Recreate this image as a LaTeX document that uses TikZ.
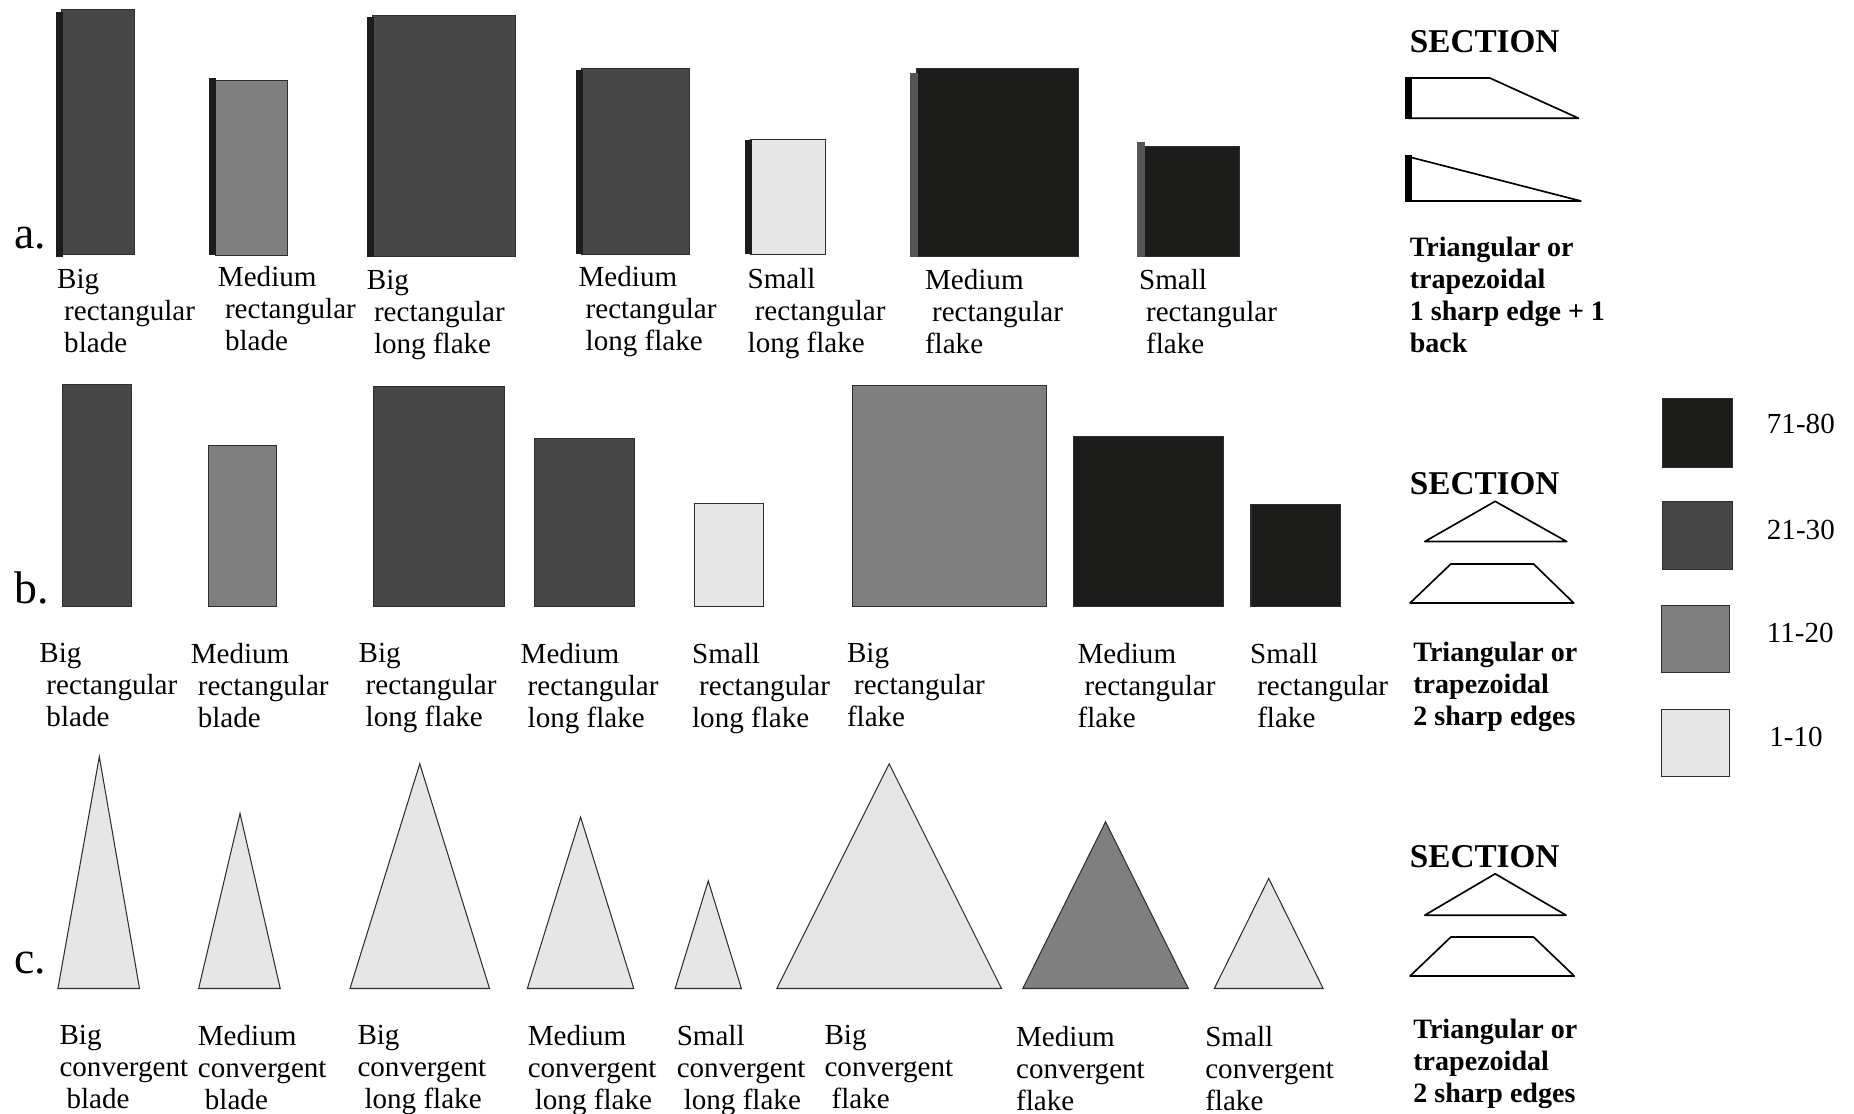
\documentclass[tikz,border=0pt]{standalone}
\usepackage{fontspec}
\setmainfont{Liberation Serif}
\usetikzlibrary{positioning}
\definecolor{colNoir}{HTML}{1C1C1A}
\definecolor{colFonce}{HTML}{474747}
\definecolor{colMoyen}{HTML}{7F7F7F}
\definecolor{colClair}{HTML}{E6E6E6}
\definecolor{colBord}{HTML}{2E2E2E}
\definecolor{colTalon}{HTML}{555555}
\newcommand{\ind}{\hspace*{3.4pt}}

\begin{document}
\begin{tikzpicture}[
  x=0.02cm, y=-0.02cm,
  piece/.style={draw=colBord, line width=0.5pt, fill=#1},
  talon/.style={fill=#1, draw=none},
  coupe/.style={draw=black, line width=0.8pt, fill=white, line join=round},
  lbl/.style={font=\fontsize{14}{15.4}\selectfont, inner sep=0pt,
              anchor=north west, align=left, yshift=-0.05cm},
  titre/.style={font=\fontsize{13.5}{15.4}\selectfont\bfseries, inner sep=0pt,
                anchor=north west, align=left, yshift=-0.05cm},
  section/.style={font=\fontsize{16}{18}\selectfont\bfseries, inner sep=0pt,
                  anchor=base west},
  rang/.style={font=\fontsize{22}{24}\selectfont, inner sep=0pt, anchor=base west},
  leg/.style={font=\fontsize{14}{16}\selectfont, inner sep=0pt, anchor=base west}
]
\useasboundingbox (0,0) rectangle (1568,942);

% ---------- Ligne a : supports rectangulaires, 1 bord + 1 dos ----------
\node[rang] (ra) at (12,210) {a.};
\draw[piece=colFonce]  (52,8)    rectangle (114,215);
\fill[talon=colNoir]   (47,10)   rectangle (53,217);
\draw[piece=colMoyen]  (182,68)  rectangle (243,216);
\fill[talon=colNoir]   (177,66)  rectangle (183,216);
\draw[piece=colFonce]  (315,13)  rectangle (436,217);
\fill[talon=colNoir]   (310,14)  rectangle (316,217);
\draw[piece=colFonce]  (492,58)  rectangle (583,215);
\fill[talon=colNoir]   (487,59)  rectangle (493,215);
\draw[piece=colClair]  (635,118) rectangle (698,215);
\fill[talon=colNoir]   (630,118) rectangle (636,215);
\draw[piece=colNoir]   (775,58)  rectangle (912,217);
\fill[talon=colTalon]  (770,62)  rectangle (776,217);
\draw[piece=colNoir]   (968,124) rectangle (1048,217);
\fill[talon=colTalon]  (962,120) rectangle (968,217);

\node[lbl] (la1) at (48,225)  {Big\\\ind rectangular\\\ind blade};
\node[lbl] (la2) at (184,222) {Medium\\\ind rectangular\\\ind blade};
\node[lbl] (la3) at (310,226) {Big\\\ind rectangular\\\ind long flake};
\node[lbl] (la4) at (489,222) {Medium\\\ind rectangular\\\ind long flake};
\node[lbl] (la5) at (632,224) {Small\\\ind rectangular\\long flake};
\node[lbl] (la6) at (782,225) {Medium\\\ind rectangular\\flake};
\node[lbl] (la7) at (963,225) {Small\\\ind rectangular\\\ind flake};

% ---------- Ligne b : supports rectangulaires, 2 bords ----------
\node[rang] (rb) at (12,510) {b.};
\draw[piece=colFonce] (53,325)   rectangle (111,513);
\draw[piece=colMoyen] (176,377)  rectangle (234,513);
\draw[piece=colFonce] (316,327)  rectangle (427,513);
\draw[piece=colFonce] (452,371)  rectangle (537,513);
\draw[piece=colClair] (587,426)  rectangle (646,513);
\draw[piece=colMoyen] (721,326)  rectangle (885,513);
\draw[piece=colNoir]  (908,369)  rectangle (1035,513);
\draw[piece=colNoir]  (1058,427) rectangle (1134,513);

\node[lbl] (lb1) at (33,541)   {Big\\\ind rectangular\\\ind blade};
\node[lbl] (lb2) at (161,541)  {Medium\\\ind rectangular\\\ind blade};
\node[lbl] (lb3) at (303,541)  {Big\\\ind rectangular\\\ind long flake};
\node[lbl] (lb4) at (440,541)  {Medium\\\ind rectangular\\\ind long flake};
\node[lbl] (lb5) at (585,541)  {Small\\\ind rectangular\\long flake};
\node[lbl] (lb6) at (716,541)  {Big\\\ind rectangular\\flake};
\node[lbl] (lb7) at (911,541)  {Medium\\\ind rectangular\\flake};
\node[lbl] (lb8) at (1057,541) {Small\\\ind rectangular\\\ind flake};

% ---------- Ligne c : supports convergents ----------
\node[rang] (rc) at (12,823) {c.};
\draw[piece=colClair] (49,836)  -- (118,836)  -- (84,640)  -- cycle;
\draw[piece=colClair] (168,836) -- (237,836)  -- (203,688) -- cycle;
\draw[piece=colClair] (296,836) -- (414,836)  -- (355,646) -- cycle;
\draw[piece=colClair] (446,836) -- (536,836)  -- (491,691) -- cycle;
\draw[piece=colClair] (571,836) -- (627,836)  -- (599,745) -- cycle;
\draw[piece=colClair] (657,836) -- (847,836)  -- (752,646) -- cycle;
\draw[piece=colMoyen] (865,836) -- (1005,836) -- (935,695) -- cycle;
\draw[piece=colClair] (1027,836) -- (1119,836) -- (1073,743) -- cycle;

\node[lbl] (lc1) at (50,864)   {Big\\convergent\\\ind blade};
\node[lbl] (lc2) at (167,864)  {Medium\\convergent\\\ind blade};
\node[lbl] (lc3) at (302,864)  {Big\\convergent\\\ind long flake};
\node[lbl] (lc4) at (446,864)  {Medium\\convergent\\\ind long flake};
\node[lbl] (lc5) at (572,864)  {Small\\convergent\\\ind long flake};
\node[lbl] (lc6) at (697,864)  {Big\\convergent\\\ind flake};
\node[lbl] (lc7) at (859,865)  {Medium\\convergent\\flake};
\node[lbl] (lc8) at (1019,865) {Small\\convergent\\flake};

% ---------- Sections ----------
\node[section] (sa) at (1192,44) {SECTION};
\draw[coupe] (1191,66) -- (1260,66) -- (1335,100) -- (1191,100) -- cycle;
\fill[black] (1188.5,65) rectangle (1194,101);
\draw[coupe] (1191,132.5) -- (1337,170) -- (1191,170) -- cycle;
\fill[black] (1188.5,131.5) rectangle (1194,171);
\node[titre] (ta) at (1192,198) {Triangular or\\trapezoidal\\1 sharp edge + 1\\back};

\node[section] (sb) at (1192,418) {SECTION};
\draw[coupe] (1205,458) -- (1325,458) -- (1264.5,424) -- cycle;
\draw[coupe] (1192.5,510) -- (1331,510) -- (1297,477) -- (1227,477) -- cycle;
\node[titre] (tb) at (1195,540.5) {Triangular or\\trapezoidal\\2 sharp edges};

\node[section] (sc) at (1192,734) {SECTION};
\draw[coupe] (1205,774) -- (1324.5,774) -- (1264.5,739) -- cycle;
\draw[coupe] (1192.5,825.5) -- (1331.5,825.5) -- (1297,792.5) -- (1227,792.5) -- cycle;
\node[titre] (tc) at (1195,859) {Triangular or\\trapezoidal\\2 sharp edges};

% ---------- Légende ----------
\draw[piece=colNoir]  (1406,337) rectangle (1465,395);
\node[leg] (l1) at (1494,367) {71-80};
\draw[piece=colFonce] (1406,424) rectangle (1465,482);
\node[leg] (l2) at (1494,456) {21-30};
\draw[piece=colMoyen] (1405,512) rectangle (1463,569);
\node[leg] (l3) at (1494,543) {11-20};
\draw[piece=colClair] (1405,600) rectangle (1463,657);
\node[leg] (l4) at (1496,631) {1-10};

\end{tikzpicture}
\end{document}
